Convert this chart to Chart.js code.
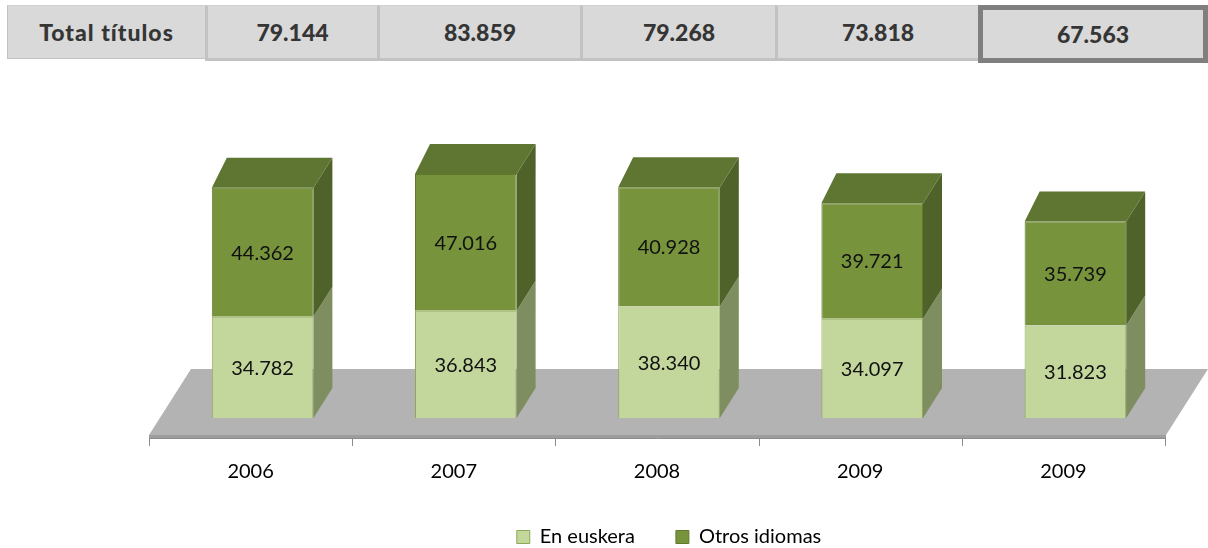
<!DOCTYPE html>
<html>
<head>
<meta charset="utf-8">
<script src="https://cdn.jsdelivr.net/npm/chart.js@4/dist/chart.umd.min.js"></script>
<style>
html,body{margin:0;padding:0;background:#fff;width:1208px;height:548px;overflow:hidden;}
#chart{position:absolute;left:0;top:0;}
.cell{position:absolute;box-sizing:border-box;background:#d9d9d9;display:flex;align-items:center;justify-content:center;
  font-family:'Lato',sans-serif;font-weight:900;font-size:23px;color:#353535;}
.cell.first{letter-spacing:1px;}
</style>
</head>
<body>
<canvas id="chart" width="1208" height="548"></canvas>
<div id="hdr"></div>
<script>
// ---- data ----
const categories = ['2006', '2007', '2008', '2009', '2009'];
const enEuskera = [34782, 36843, 38340, 34097, 31823];
const otrosIdiomas = [44362, 47016, 40928, 39721, 35739];
const seriesNames = ['En euskera', 'Otros idiomas'];
const headerTitle = 'Total títulos';
const totalTitulos = [79144, 83859, 79268, 73818, 67563];

const fmt = n => String(n).replace(/\B(?=(\d{3})+(?!\d))/g, '.');

// ---- header table ----
const edges = [7, 205, 377, 580, 775, 978, 1208];
const hdr = document.getElementById('hdr');
const texts = [headerTitle].concat(totalTitulos.map(fmt));
texts.forEach((t, i) => {
  const d = document.createElement('div');
  d.className = 'cell' + (i === 0 ? ' first' : '');
  d.textContent = t;
  d.style.left = edges[i] + 'px';
  d.style.width = (edges[i + 1] - edges[i]) + 'px';
  if (i === texts.length - 1) {
    d.style.top = '5px';
    d.style.height = '58px';
    d.style.border = '5px solid #7f7f7f';
  } else {
    d.style.top = '5px';
    d.style.height = i === 0 ? '54px' : '56px';
    d.style.borderLeft = (i === 0 ? '1px' : '3px') + ' solid #c2c2c2';
    d.style.borderTop = '1px solid #d0d0d0';
    d.style.borderBottom = (i === 0 ? '1px' : '3px') + ' solid #c2c2c2';
  }
  hdr.appendChild(d);
});

// ---- 3D look ----
const sideColors = ['#7e8e60', '#4f6229'];
const topColor = '#5e7631';
const depthX = 19, depthXLeft = 15, depthY = -30;
const floorDX = 42, floorDY = -69, floorShiftX = -12, floorShiftY = 20;

const threeD = {
  id: 'threeD',
  beforeDatasetsDraw(chart) {
    const ctx = chart.ctx, xs = chart.scales.x, ys = chart.scales.y;
    const y0 = ys.getPixelForValue(0);
    const fy = y0 + floorShiftY;
    const fl = xs.left + floorShiftX, fr = xs.right + floorShiftX + 1;
    ctx.save();
    // floor
    ctx.fillStyle = '#b3b3b3';
    ctx.beginPath();
    ctx.moveTo(fl, fy - 3);
    ctx.lineTo(fr, fy - 3);
    ctx.lineTo(fr + floorDX, fy + floorDY);
    ctx.lineTo(fl + floorDX, fy + floorDY);
    ctx.closePath();
    ctx.fill();
    ctx.fillStyle = '#9d9d9d';
    ctx.beginPath();
    ctx.moveTo(fl, fy - 3);
    ctx.lineTo(fr, fy - 3);
    ctx.lineTo(fr, fy);
    ctx.lineTo(fl, fy);
    ctx.closePath();
    ctx.fill();
    // axis line + ticks
    ctx.strokeStyle = '#8c8c8c';
    ctx.lineWidth = 1;
    ctx.beginPath();
    ctx.moveTo(fl, fy + 0.5);
    ctx.lineTo(fr, fy + 0.5);
    const n = chart.data.labels.length;
    const cw = (xs.right - xs.left) / n;
    for (let i = 0; i <= n; i++) {
      const x = Math.round(xs.left + i * cw + floorShiftX) + 0.5;
      ctx.moveTo(x, fy);
      ctx.lineTo(x, fy + 8);
    }
    ctx.stroke();
    // bar side and top faces
    const metas = chart.getSortedVisibleDatasetMetas();
    metas.forEach((meta, k) => {
      meta.data.forEach(el => {
        const p = el.getProps(['x', 'y', 'base', 'width'], true);
        const l = p.x - p.width / 2, r = p.x + p.width / 2;
        const top = Math.min(p.y, p.base), bot = Math.max(p.y, p.base);
        ctx.fillStyle = sideColors[meta.index];
        ctx.beginPath();
        ctx.moveTo(r, top);
        ctx.lineTo(r + depthX, top + depthY);
        ctx.lineTo(r + depthX, bot + depthY);
        ctx.lineTo(r, bot);
        ctx.closePath();
        ctx.fill();
        if (k === metas.length - 1) {
          ctx.fillStyle = topColor;
          ctx.beginPath();
          ctx.moveTo(l, top);
          ctx.lineTo(l + depthXLeft, top + depthY);
          ctx.lineTo(r + depthX, top + depthY);
          ctx.lineTo(r, top);
          ctx.closePath();
          ctx.fill();
        }
      });
    });
    ctx.restore();
  },
  afterDatasetsDraw(chart) {
    const ctx = chart.ctx;
    ctx.save();
    ctx.font = '20px Lato';
    ctx.fillStyle = '#111';
    ctx.textAlign = 'center';
    ctx.textBaseline = 'middle';
    chart.getSortedVisibleDatasetMetas().forEach(meta => {
      const vals = chart.data.datasets[meta.index].data;
      meta.data.forEach((el, i) => {
        const p = el.getProps(['x', 'y', 'base'], true);
        ctx.fillText(fmt(vals[i]), p.x, (p.y + p.base) / 2 + 1);
      });
    });
    ctx.restore();
  }
};

new Chart(document.getElementById('chart'), {
  type: 'bar',
  data: {
    labels: categories,
    datasets: [
      { label: seriesNames[0], data: enEuskera, backgroundColor: '#c3d69b', borderColor: '#8ea957', borderWidth: 1,
        categoryPercentage: 1, barPercentage: 0.5 },
      { label: seriesNames[1], data: otrosIdiomas, backgroundColor: '#77933c', borderColor: '#5f7a2c', borderWidth: 1,
        categoryPercentage: 1, barPercentage: 0.5 }
    ]
  },
  options: {
    responsive: false,
    animation: false,
    layout: { padding: { left: 161, right: 31, top: 127, bottom: -9 } },
    plugins: {
      legend: {
        position: 'bottom',
        labels: { boxWidth: 13, boxHeight: 13, padding: 41, color: '#000', font: { family: 'Lato', size: 20 } }
      },
      tooltip: { enabled: false }
    },
    scales: {
      x: {
        stacked: true,
        grid: { display: false, drawTicks: false },
        border: { display: false },
        ticks: { color: '#000', font: { family: 'Lato', size: 20 }, padding: 42, labelOffset: -12 },
        afterFit: s => { s.height = 68; }
      },
      y: { stacked: true, display: false, min: 0, max: 100000 }
    }
  },
  plugins: [threeD]
});
</script>
</body>
</html>
